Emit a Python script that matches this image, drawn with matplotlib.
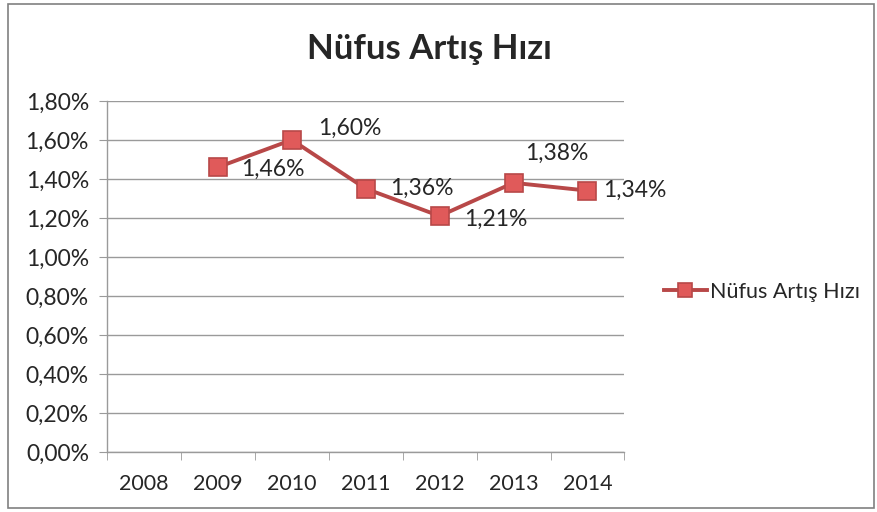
"""Line chart: Nüfus Artış Hızı (population growth rate), 2008-2014"""

import numpy as np
from matplotlib import pyplot as plt
from matplotlib.patches import Rectangle
from matplotlib.ticker import FuncFormatter

years = ['2008', '2009', '2010', '2011', '2012', '2013', '2014']
growth = [np.nan, 1.46, 1.60, 1.35, 1.21, 1.38, 1.34]
point_labels = ['', '1,46%', '1,60%', '1,36%', '1,21%', '1,38%', '1,34%']
title = 'Nüfus Artış Hızı'
series_name = 'Nüfus Artış Hızı'

# label offsets in pixels (dx, dy) from each marker
label_offsets = [(0, 0), (23, -2), (26, 12), (24, 0), (24, -3), (12, 29), (16, 0)]

TEXT = '#262626'
GRID = '#9a9a9a'
LINE = '#b84848'
MARK = '#e05a5a'

plt.close('all')
plt.rcParams['font.family'] = ['Lato', 'DejaVu Sans']
fig = plt.figure(figsize=(8.77, 5.12), dpi=100)
ax = fig.add_axes([0.122, 0.117, 0.590, 0.686])

x = np.arange(len(years))
ax.plot(x, growth, color=LINE, linewidth=2.8, marker='s', markersize=13,
        markerfacecolor=MARK, markeredgecolor=LINE, markeredgewidth=1.2,
        label=series_name, zorder=3)

for xi, yi, txt, (dx, dy) in zip(x, growth, point_labels, label_offsets):
    if txt:
        ax.annotate(txt, (xi, yi), xytext=(dx, dy), textcoords='offset pixels',
                    ha='left', va='center', fontsize=16.5, color=TEXT)

ax.set_xlim(-0.5, len(years) - 0.5)
ax.set_ylim(0, 1.8)
ax.set_yticks(np.arange(0, 1.81, 0.2))
ax.yaxis.set_major_formatter(FuncFormatter(lambda v, p: f'{v:.2f}%'.replace('.', ',')))
ax.set_xticks(x)
ax.set_xticklabels(years)
ax.set_xticks(np.arange(-0.5, len(years)), minor=True)
ax.tick_params(axis='x', which='major', length=0, pad=16, labelsize=15.5, labelcolor=TEXT)
ax.tick_params(axis='x', which='minor', length=6, color=GRID, direction='out')
ax.tick_params(axis='y', length=6, color=GRID, pad=7, labelsize=16.5, labelcolor=TEXT)

ax.grid(axis='y', color=GRID, linewidth=1.0)
ax.set_axisbelow(True)
for side in ('top', 'right'):
    ax.spines[side].set_visible(False)
for side in ('left', 'bottom'):
    ax.spines[side].set_color(GRID)
    ax.spines[side].set_linewidth(1.0)

fig.text(0.49, 0.905, title, ha='center', va='center', fontsize=25,
         fontweight='bold', color=TEXT)

fig.legend(loc='center left', bbox_to_anchor=(0.735, 0.43), frameon=False,
           fontsize=15.5, labelcolor=TEXT, handlelength=2.0, handletextpad=0.15,
           markerscale=0.8)

fig.patches.append(Rectangle((0.009, 0.008), 0.988, 0.984, transform=fig.transFigure,
                             fill=False, edgecolor='#808080', linewidth=1.2))

fig.savefig('out.png', dpi=100)
